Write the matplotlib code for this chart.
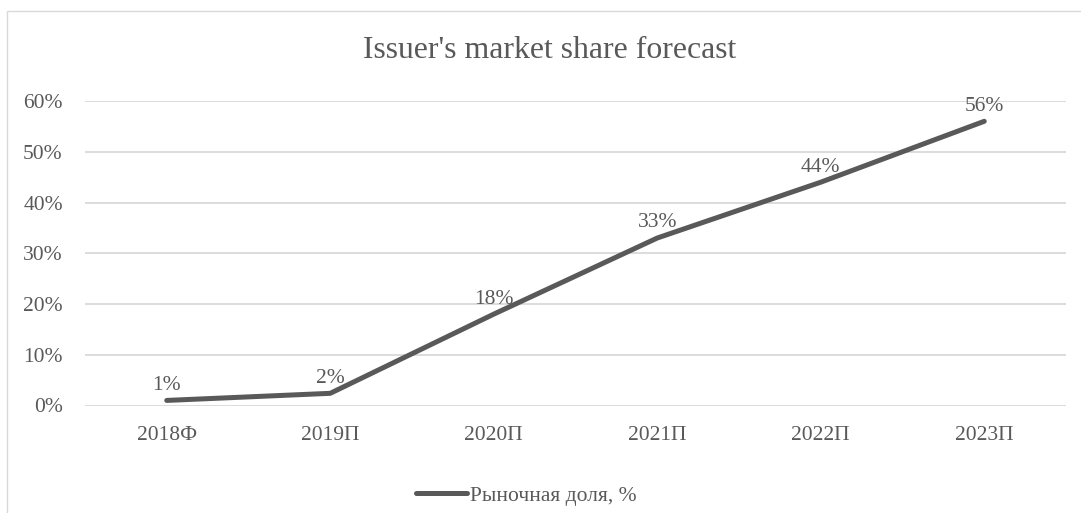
import matplotlib.pyplot as plt
from matplotlib.patches import Rectangle
import numpy as np

plt.rcParams['font.family'] = ['Liberation Serif', 'DejaVu Serif']

years = ['2018Ф', '2019П', '2020П', '2021П', '2022П', '2023П']
share = [1.0, 2.4, 18.0, 33.0, 44.0, 56.0]   # рыночная доля, %
yticks = [0, 10, 20, 30, 40, 50, 60]

text_col = '#595959'
line_col = '#595959'
grid_col = '#d9d9d9'
fs = 15.5

W, H = 1081, 513
fig = plt.figure(figsize=(W / 100, H / 100), dpi=100)

# chart area border (only top and left edges fall inside the image)
fig.patches.append(Rectangle((7 / W, -0.1), 1.2, 1 - 11 / H + 0.1,
                             transform=fig.transFigure, fill=False,
                             edgecolor=grid_col, linewidth=1.0))

ax = fig.add_axes([85 / W, 1 - 405.5 / H, (1066 - 85) / W, (405.5 - 101) / H])
x = np.arange(len(years))
ax.plot(x, share, color=line_col, linewidth=3.6, solid_capstyle='round',
        solid_joinstyle='round', label='Рыночная доля, %', zorder=3)

for xi, v in zip(x, share):
    ax.annotate(f'{v:.0f}%', (xi, v), xytext=(0, 4), textcoords='offset points',
                ha='center', va='bottom', fontsize=fs, color=text_col, zorder=4)

ax.set_xlim(-0.5, len(years) - 0.5)
ax.set_ylim(0, 60)
ax.set_xticks(x)
ax.set_xticklabels(years)
ax.set_yticks(yticks)
ax.set_yticklabels([f'{t}%' for t in yticks])
ax.tick_params(axis='both', length=0, labelsize=fs, labelcolor=text_col)
ax.tick_params(axis='x', pad=15)
ax.tick_params(axis='y', pad=16)
ax.grid(axis='y', color=grid_col, linewidth=1.3)
ax.set_axisbelow(True)
for s in ax.spines.values():
    s.set_visible(False)

fig.text(550 / W, 1 - 51 / H, "Issuer's market share forecast",
         ha='center', va='center', fontsize=22.9, color=text_col)

leg = fig.legend(loc='center', bbox_to_anchor=(526 / W, 1 - 496 / H),
                 frameon=False, fontsize=fs, handlelength=2.4,
                 handletextpad=0.1, labelcolor=text_col)

fig.savefig('out.png', dpi=100, facecolor='white')
